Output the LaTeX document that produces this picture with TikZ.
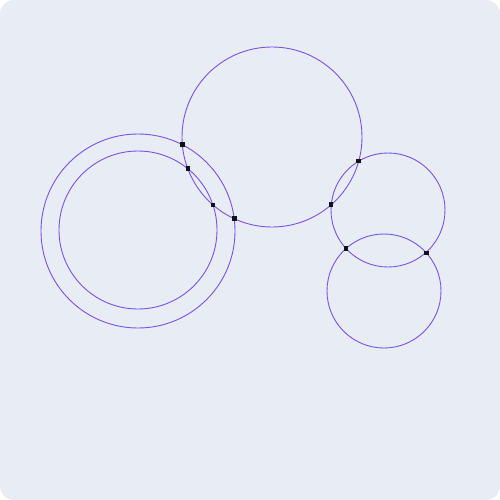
\documentclass[tikz,border=0pt]{standalone}
\usetikzlibrary{shapes.geometric}
\definecolor{bgc}{HTML}{E8ECF4}
\definecolor{circc}{HTML}{7A52E6}
\definecolor{dotc}{HTML}{111118}
\begin{document}
\begin{tikzpicture}[x=1pt,y=-1pt,
  circ/.style={draw=circc,line width=0.9pt},
  dot/.style={rectangle,fill=dotc,minimum size=4.5pt,inner sep=0pt}]
\useasboundingbox (0,0) rectangle (500,500);
\fill[white] (0,0) rectangle (500,500);
\fill[bgc,rounded corners=14pt] (0,0) rectangle (500,500);
\draw[circ] (272,137) circle[radius=90];
\draw[circ] (138,231) circle[radius=97];
\draw[circ] (138,230) circle[radius=79];
\draw[circ] (388,210) circle[radius=57];
\draw[circ] (384,291) circle[radius=57];
\node[dot] (p1) at (182.3,144.7) {};
\node[dot] (p2) at (187.8,168.7) {};
\node[dot] (p3) at (212.8,204.8) {};
\node[dot] (p4) at (234.3,218.7) {};
\node[dot] (p5) at (358.7,161.1) {};
\node[dot] (p6) at (331.2,204.7) {};
\node[dot] (p7) at (346,248.5) {};
\node[dot] (p8) at (426.5,252.8) {};
\end{tikzpicture}
\end{document}
